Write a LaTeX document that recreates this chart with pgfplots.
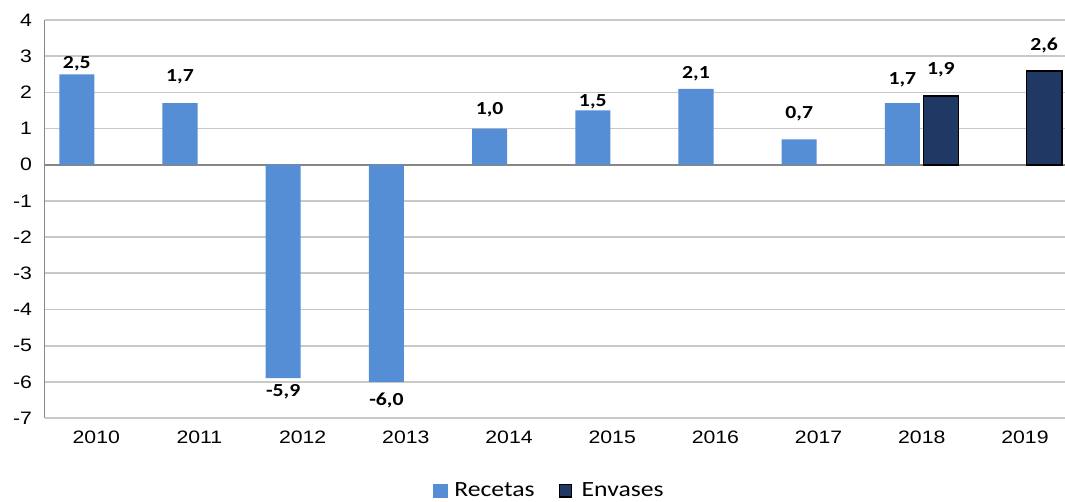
\documentclass[border=0pt]{standalone}
\usepackage{pgfplots}
\usepackage{pgfplotstable}
\pgfplotsset{compat=1.18}
\usepackage{fontspec}
\setmainfont{Liberation Sans}[FakeStretch=1.18]
\newfontfamily\carlito{Carlito}[FakeStretch=1.18]

\definecolor{recetas}{RGB}{85,142,213}
\definecolor{envases}{RGB}{32,56,100}
\definecolor{gridgray}{RGB}{200,200,200}
\definecolor{axisgray}{RGB}{134,134,134}

% year, value, label offset (pt, from bar end to label centre)
\pgfplotstableread{
year  val   dy
2010  2.5   7.4
2011  1.7   19
2012  -5.9  -11
2013  -6.0  -14.4
2014  1.0   13
2015  1.5   6
2016  2.1   10.4
2017  0.7   18.3
2018  1.7   16.8
}\recetas
\pgfplotstableread{
year  val   dy
2018  1.9   19
2019  2.6   18.3
}\envases

\begin{document}
\begin{tikzpicture}
  % page = 1065 x 501 px, 1 px = 0.75pt
  \useasboundingbox (-33.5pt,-62.25pt) rectangle (765.2pt,313.5pt);
  \begin{axis}[
      at={(0,0)}, anchor=south west,
      scale only axis,
      width=765.2pt, height=298.5pt,
      ybar, bar width=26.3pt,
      xmin=2009.5, xmax=2019.387,
      ymin=-7, ymax=4,
      xtick={2010,...,2019},
      ytick={-7,...,4},
      major tick length=0pt,
      separate axis lines,
      axis x line*=bottom, axis y line*=left,
      x axis line style={draw=none},
      y axis line style={draw=axisgray, line width=1.2pt},
      ymajorgrids,
      grid style={draw=gridgray, line width=1.3pt},
      extra y ticks={0}, extra y tick labels={},
      extra y tick style={grid style={draw=axisgray, line width=1.2pt}},
      /pgf/number format/assume math mode=true,
      tick label style={font=\fontsize{13.5}{15}\selectfont},
      x tick label style={/pgf/number format/1000 sep={}, yshift=-6pt},
      y tick label style={xshift=-6pt},
      visualization depends on={\thisrow{dy} \as \dy},
      nodes near coords={\pgfmathprintnumber[fixed, fixed zerofill, precision=1,
        use comma, assume math mode=true]{\pgfplotspointmeta}},
      every node near coord/.append style={anchor=center, yshift=\dy pt+0.8pt,
        font=\carlito\bfseries\fontsize{13.8}{15}\selectfont},
      legend style={at={(0.495,-0.183)}, anchor=center, draw=none,
        font=\carlito\fontsize{16.3}{18}\selectfont, legend columns=2},
    ]
    \addplot[fill=recetas, draw=none, bar shift=-14.6pt,
      legend image code/.code={\fill[recetas] (0pt,-5.3pt) rectangle (10.9pt,5.3pt);}]
      table[x=year, y=val] {\recetas};
    \addlegendentry{\rule{3pt}{0pt}Recetas\rule{16pt}{0pt}}
    \addplot[fill=envases, draw=black, line width=1.3pt, bar shift=14.3pt,
      legend image code/.code={\draw[fill=envases, draw=black, line width=1.1pt] (0pt,-4.6pt) rectangle (9.2pt,4.6pt);}]
      table[x=year, y=val] {\envases};
    \addlegendentry{\rule{5pt}{0pt}Envases}
  \end{axis}
\end{tikzpicture}
\end{document}
